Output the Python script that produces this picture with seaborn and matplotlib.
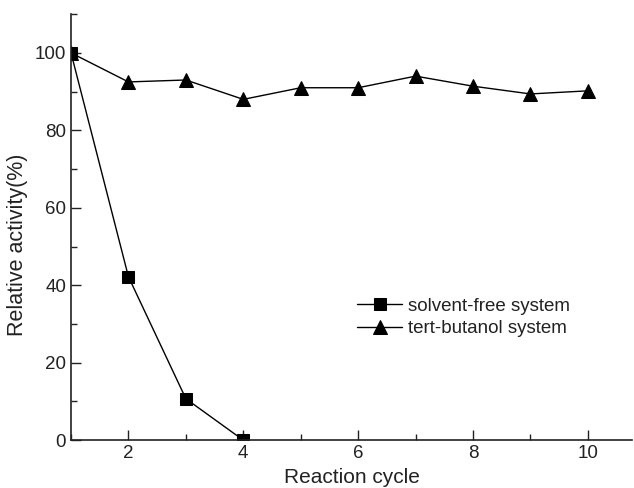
import matplotlib
matplotlib.use("Agg")
import matplotlib.pyplot as plt
from matplotlib.ticker import MultipleLocator
import seaborn as sns
import pandas as pd

cycles = [1, 2, 3, 4, 5, 6, 7, 8, 9, 10]
solvent_free_cycles = [1, 2, 3, 4]
solvent_free = [100, 42.2, 10.7, 0]
tert_butanol = [100, 92.5, 93.0, 88.0, 91.0, 91.0, 94.0, 91.4, 89.4, 90.2]

sns.set_theme(style="ticks")
plt.rcParams["font.family"] = ["Liberation Sans", "DejaVu Sans"]

df_sf = pd.DataFrame({"cycle": solvent_free_cycles, "activity": solvent_free})
df_tb = pd.DataFrame({"cycle": cycles, "activity": tert_butanol})

fig = plt.figure(figsize=(6.34, 4.88), dpi=100)
ax = fig.add_axes([0.112, 0.098, 0.885, 0.873])

sns.lineplot(data=df_sf, x="cycle", y="activity", ax=ax, color="black",
             marker="s", markersize=8, linewidth=1.0, markeredgecolor="black",
             label="solvent-free system")
sns.lineplot(data=df_tb, x="cycle", y="activity", ax=ax, color="black",
             marker="^", markersize=10, linewidth=1.0, markeredgecolor="black",
             label="tert-butanol system")

ax.set_xlim(1, 10.77)
ax.set_ylim(0, 110)
ax.xaxis.set_major_locator(MultipleLocator(2))
ax.xaxis.set_minor_locator(MultipleLocator(1))
ax.yaxis.set_major_locator(MultipleLocator(20))
ax.yaxis.set_minor_locator(MultipleLocator(10))
ax.tick_params(which="both", direction="in", color="#222222", width=1.0,
               labelsize=13.5, labelcolor="#222222")
ax.tick_params(which="major", length=7)
ax.tick_params(which="minor", length=4)

for side in ("top", "right"):
    ax.spines[side].set_visible(False)
for side in ("left", "bottom"):
    ax.spines[side].set_color("#222222")
    ax.spines[side].set_linewidth(1.2)

ax.set_xlabel("Reaction cycle", fontsize=15, color="#222222", labelpad=4.5)
ax.set_ylabel("Relative activity(%)", fontsize=15.5, color="#222222")
ax.yaxis.set_label_coords(-0.076, 0.458)

ax.legend(loc="upper left", bbox_to_anchor=(0.51, 0.334), frameon=False,
          fontsize=13.5, handlelength=2.4, handletextpad=0.32, labelspacing=0.28,
          borderpad=0, borderaxespad=0, labelcolor="#222222")

fig.savefig("out.png", dpi=100)
